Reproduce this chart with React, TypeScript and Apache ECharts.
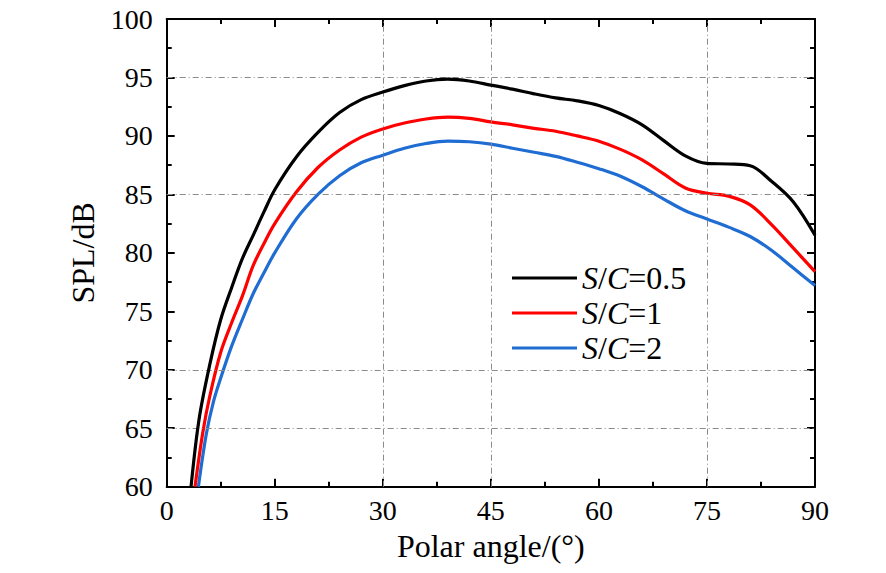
import React, { useEffect, useRef } from "react";
import * as echarts from "echarts";

const seriesNames = ["S/C=0.5", "S/C=1", "S/C=2"];
const seriesColors = ["#000000", "#ff0000", "#1f6dd2"];

const angle05 = [3.38, 4.5, 6, 7.5, 9, 10.5, 12, 13.5, 15, 18, 21, 24, 27, 30, 33, 36, 39, 42, 45, 48, 51, 54, 57, 60, 63, 66, 69, 72, 75, 78, 81, 84, 87, 90];
const spl05 = [60, 65.8, 70.5, 74.3, 77.0, 79.5, 81.5, 83.5, 85.4, 88.2, 90.3, 92.0, 93.1, 93.75, 94.3, 94.7, 94.85, 94.7, 94.35, 94.0, 93.6, 93.25, 93.0, 92.6, 91.9, 90.95, 89.6, 88.3, 87.65, 87.6, 87.45, 86.1, 84.35, 81.5];

const angle1 = [3.93, 5, 6, 7.5, 9, 10.5, 12, 13.5, 15, 18, 21, 24, 27, 30, 33, 36, 39, 42, 45, 48, 51, 54, 57, 60, 63, 66, 69, 72, 75, 78, 81, 84, 87, 90];
const spl1 = [60, 64.6, 67.8, 71.5, 74.0, 76.3, 78.9, 80.8, 82.5, 85.2, 87.3, 88.8, 89.9, 90.6, 91.1, 91.45, 91.6, 91.5, 91.2, 90.95, 90.65, 90.4, 90.0, 89.55, 88.85, 87.95, 86.75, 85.55, 85.1, 84.85, 84.1, 82.4, 80.4, 78.4];

const angle2 = [4.4, 5.5, 6.5, 7.5, 9, 10.5, 12, 13.5, 15, 18, 21, 24, 27, 30, 33, 36, 39, 42, 45, 48, 51, 54, 57, 60, 63, 66, 69, 72, 75, 78, 81, 84, 87, 90];
const spl2 = [60, 64.5, 67.3, 69.3, 72.0, 74.3, 76.5, 78.3, 80.0, 82.9, 85.0, 86.6, 87.7, 88.35, 88.95, 89.35, 89.55, 89.5, 89.3, 88.95, 88.6, 88.25, 87.75, 87.2, 86.55, 85.65, 84.6, 83.6, 82.9, 82.2, 81.4, 80.2, 78.7, 77.2];

const xGridValues = [30, 45, 75];
const yGridValues = [95, 85, 70, 65];

const FONT = "Liberation Serif";

function pairs(xs: number[], ys: number[]) {
  return xs.map((x, i) => [x, ys[i]]);
}

function frame() {
  return {
    axisLine: { show: true, onZero: false, lineStyle: { color: "#000", width: 2 } },
    axisTick: { show: true, inside: true, length: 8, lineStyle: { color: "#000", width: 2 } },
    minorTick: { show: true, splitNumber: 2, length: 5, lineStyle: { color: "#000", width: 2 } },
    splitLine: { show: false },
  };
}

export default function App() {
  const ref = useRef<HTMLDivElement>(null);
  useEffect(() => {
    if (!ref.current) return;
    const chart = echarts.init(ref.current, null, { renderer: "svg" });
    const datasets = [pairs(angle05, spl05), pairs(angle1, spl1), pairs(angle2, spl2)];
    chart.setOption({
      animation: false,
      backgroundColor: "#ffffff",
      grid: { left: 166.7, top: 19, right: 71, bottom: 86.3, containLabel: false },
      legend: {
        data: seriesNames,
        orient: "vertical",
        left: 512,
        top: 262,
        padding: 0,
        itemWidth: 65,
        itemHeight: 14,
        itemGap: 3,
        icon: "path://M0,6 L65,6 L65,9 L0,9 Z",
        formatter: (name: string) => {
          const parts = name.split("=");
          return "{i|S}/{i|C}=" + parts[1];
        },
        textStyle: {
          fontFamily: FONT,
          fontSize: 32,
          color: "#000",
          rich: {
            i: { fontFamily: FONT, fontSize: 32, fontStyle: "italic", color: "#000" },
          },
        },
      },
      xAxis: [
        {
          type: "value",
          min: 0,
          max: 90,
          interval: 15,
          position: "bottom",
          name: "Polar angle/(°)",
          nameLocation: "middle",
          nameGap: 40,
          nameTextStyle: { fontFamily: FONT, fontSize: 32, color: "#000" },
          axisLabel: { fontFamily: FONT, fontSize: 28, color: "#000", margin: 10 },
          ...frame(),
        },
        {
          type: "value",
          min: 0,
          max: 90,
          interval: 15,
          position: "top",
          axisLabel: { show: false },
          ...frame(),
        },
      ],
      yAxis: [
        {
          type: "value",
          min: 60,
          max: 100,
          interval: 5,
          position: "left",
          name: "SPL/dB",
          nameLocation: "middle",
          nameGap: 68,
          nameTextStyle: { fontFamily: FONT, fontSize: 32, color: "#000" },
          axisLabel: { fontFamily: FONT, fontSize: 28, color: "#000", margin: 14 },
          ...frame(),
        },
        {
          type: "value",
          min: 60,
          max: 100,
          interval: 5,
          position: "right",
          axisLabel: { show: false },
          ...frame(),
        },
      ],
      series: [
        {
          name: "grid",
          type: "line",
          data: [],
          z: 1,
          silent: true,
          markLine: {
            silent: true,
            symbol: "none",
            label: { show: false },
            lineStyle: { color: "#8a8a8a", width: 1, type: [6, 3, 1, 3] },
            data: [
              ...xGridValues.map((v) => ({ xAxis: v })),
              ...yGridValues.map((v) => ({ yAxis: v })),
            ],
          },
        },
        ...seriesNames.map((name, i) => ({
          name,
          type: "line",
          data: datasets[i],
          smooth: 0.35,
          showSymbol: false,
          symbol: "none",
          z: 3 + (2 - i),
          clip: true,
          lineStyle: { color: seriesColors[i], width: 3.2 },
          itemStyle: { color: seriesColors[i] },
        })),
      ],
    });
    return () => chart.dispose();
  }, []);
  return (
    <div
      ref={ref}
      style={{ position: "fixed", left: 0, top: 0, width: 886, height: 573, background: "#fff" }}
    />
  );
}
